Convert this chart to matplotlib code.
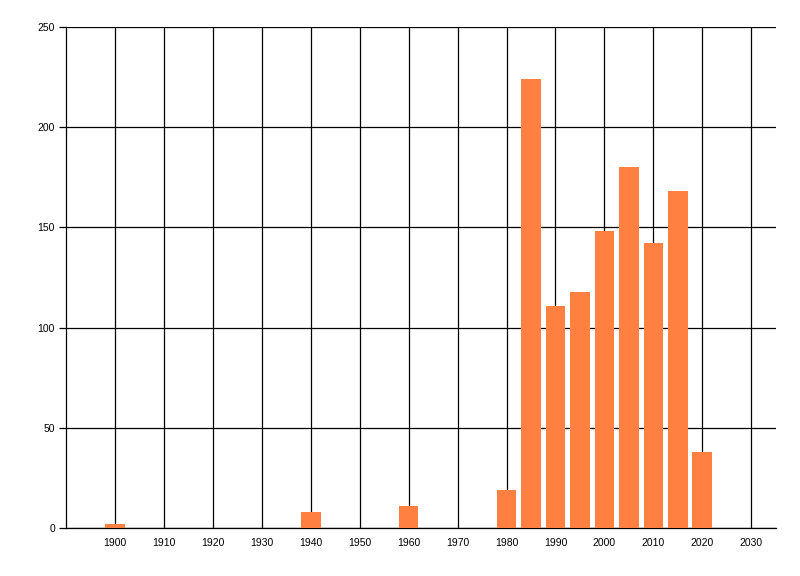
import matplotlib
matplotlib.use("Agg")
import matplotlib.pyplot as plt

years = [1900, 1940, 1960, 1980, 1985, 1990, 1995, 2000, 2005, 2010, 2015, 2020]
counts = [2, 8, 11, 19, 224, 111, 118, 148, 180, 142, 168, 38]
xticks = list(range(1900, 2031, 10))
yticks = [0, 50, 100, 150, 200, 250]

plt.rcParams['font.family'] = ['Liberation Sans', 'DejaVu Sans']

fig = plt.figure(figsize=(8, 5.76), dpi=100)
ax = fig.add_axes([66/800, 1-528/576, (775.7-66)/800, (528-27)/576])

ax.bar(years, counts, width=4, color='#FF8040', zorder=3)

ax.set_xlim(1890, 2035)
ax.set_ylim(0, 250)
ax.set_xticks(xticks)
ax.set_yticks(yticks)
ax.set_xticklabels([str(t) for t in xticks], fontsize=7.5)
ax.set_yticklabels([str(t) for t in yticks], fontsize=7.5)
ax.grid(True, color='black', linewidth=0.9, zorder=1)
ax.set_axisbelow(True)
for s in ['top', 'right']:
    ax.spines[s].set_visible(False)
for s in ['left', 'bottom']:
    ax.spines[s].set_linewidth(0.9)
ax.tick_params(axis='x', length=0, pad=7)
ax.tick_params(axis='y', length=5, width=0.9, pad=3)

fig.savefig('out.png', dpi=100)
